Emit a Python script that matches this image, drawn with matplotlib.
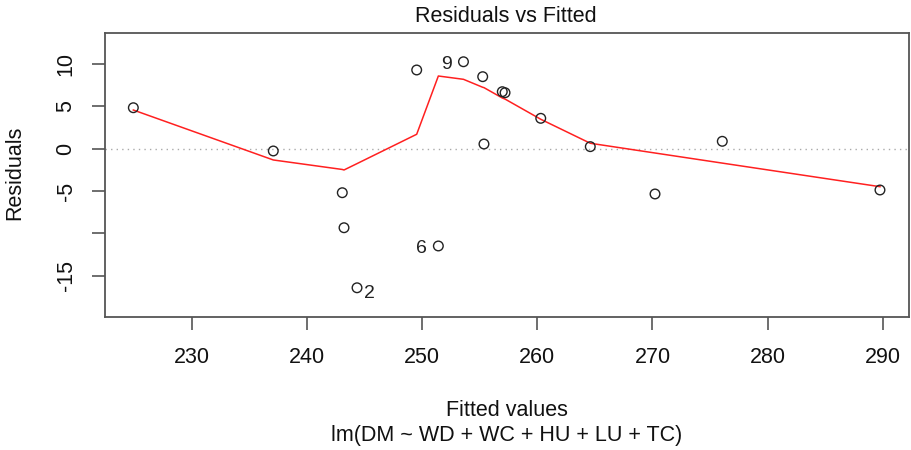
import matplotlib
matplotlib.use("Agg")
import matplotlib.pyplot as plt

plt.rcParams['font.family'] = ['Liberation Sans', 'DejaVu Sans']

fitted = [224.93, 237.08, 243.07, 243.22, 244.35, 249.53, 251.41, 253.59, 255.26,
          255.37, 256.96, 257.20, 260.30, 264.60, 270.22, 276.06, 289.75]
residuals = [4.83, -0.27, -5.19, -9.32, -16.40, 9.28, -11.47, 10.25, 8.49,
             0.55, 6.72, 6.60, 3.58, 0.24, -5.34, 0.87, -4.87]
smooth = [4.56, -1.33, -2.45, -2.51, -1.76, 1.70, 8.57, 8.18, 7.24,
          7.20, 5.98, 5.85, 3.47, 0.64, -0.51, -1.70, -4.48]
labels = {"9": (253.59, 10.25, 'right'), "6": (251.41, -11.47, 'right'), "2": (244.35, -16.40, 'left')}

xticks = [230, 240, 250, 260, 270, 280, 290]
yticks = [10, 5, 0, -5, -10, -15]
yticklabels = ["10", "5", "0", "-5", "", "-15"]

W, H = 912, 450
fig = plt.figure(figsize=(W / 100, H / 100), dpi=100)
L, R, T, B = 105, 909, 33, 316.7
ax = fig.add_axes([L / W, 1 - B / H, (R - L) / W, (B - T) / H])

ax.axhline(0, color='#aaaaaa', linestyle=(0, (1, 3)), linewidth=1.0, zorder=1)
ax.plot(fitted, smooth, color='#ff2020', linewidth=1.1, zorder=2)
ax.scatter(fitted, residuals, s=48, facecolors='none', edgecolors='#222222', linewidths=1.0, zorder=3)

for txt, (x, y, side) in labels.items():
    if side == 'right':
        ax.annotate(txt, (x, y), xytext=(-8, -2), textcoords='offset points',
                    ha='right', va='center', fontsize=14, color='#222222')
    else:
        ax.annotate(txt, (x, y), xytext=(5, -4), textcoords='offset points',
                    ha='left', va='center', fontsize=14, color='#222222')

ax.set_xlim(222.47, 292.27)
ax.set_ylim(-19.81, 13.64)
ax.set_xticks(xticks)
ax.set_xticklabels([str(v) for v in xticks])
ax.set_yticks(yticks)
ax.set_yticklabels(yticklabels, rotation=90, va='center')

for s in ax.spines.values():
    s.set_color('#555555')
    s.set_linewidth(1.3)
ax.tick_params(axis='both', length=9.5, width=1.2, color='#555555', labelsize=15.5, labelcolor='#111111')
ax.tick_params(axis='x', pad=12)
ax.tick_params(axis='y', pad=11)

fig.text(506 / W, 1 - 16 / H, "Residuals vs Fitted", ha='center', va='center', fontsize=15.5, color='#111111')
fig.text(15 / W, 1 - 173 / H, "Residuals", ha='center', va='center', rotation=90, fontsize=15.5, color='#111111')
fig.text(507 / W, 1 - 410 / H, "Fitted values", ha='center', va='center', fontsize=15.5, color='#111111')
fig.text(507 / W, 1 - 435 / H, "lm(DM ~ WD + WC + HU + LU + TC)", ha='center', va='center', fontsize=15.5, color='#111111')

fig.savefig("out.png", dpi=100)
